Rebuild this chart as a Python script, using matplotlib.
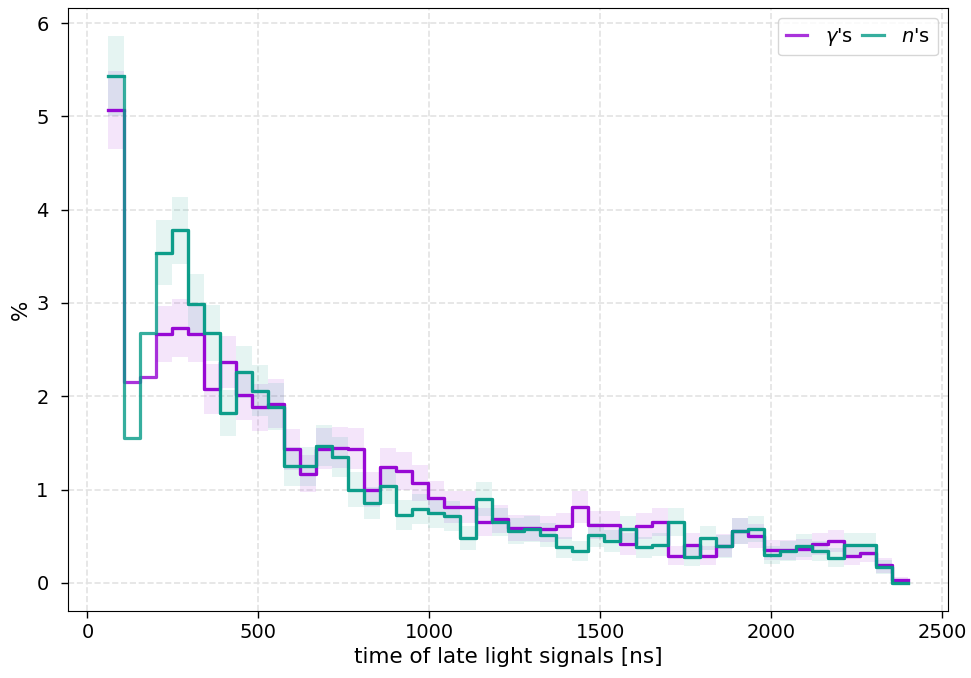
import numpy as np
import matplotlib
matplotlib.use("Agg")
import matplotlib.pyplot as plt

# 50 bins from 60 ns to 2400 ns
bin_edges = np.linspace(60, 2400, 51)

gamma_pct = [5.07, 2.15, 2.21, 2.67, 2.73, 2.67, 2.08, 2.37, 2.01, 1.88,
             1.92, 1.43, 1.17, 1.44, 1.45, 1.44, 1.00, 1.24, 1.20, 1.07,
             0.91, 0.81, 0.81, 0.65, 0.68, 0.59, 0.59, 0.58, 0.61, 0.81,
             0.62, 0.62, 0.42, 0.61, 0.65, 0.29, 0.41, 0.29, 0.40, 0.56,
             0.50, 0.35, 0.35, 0.36, 0.42, 0.45, 0.29, 0.32, 0.19, 0.03]
gamma_err = [0.42, np.nan, np.nan, 0.30, 0.31, 0.30, 0.27, 0.28, 0.26, 0.25,
             0.26, 0.22, 0.20, 0.22, 0.22, 0.22, 0.19, 0.21, 0.20, 0.19,
             0.18, 0.17, 0.17, 0.15, 0.15, 0.14, 0.14, 0.14, 0.14, 0.17,
             0.15, 0.15, 0.12, 0.14, 0.15, 0.10, 0.12, 0.10, 0.12, 0.14,
             0.13, 0.11, 0.11, 0.11, 0.12, 0.12, 0.10, 0.10, 0.08, 0.03]

neutron_pct = [5.43, 1.55, 2.68, 3.54, 3.78, 2.99, 2.68, 1.82, 2.26, 2.06,
               1.89, 1.25, 1.25, 1.47, 1.35, 1.00, 0.86, 1.04, 0.73, 0.79,
               0.75, 0.72, 0.48, 0.90, 0.65, 0.56, 0.58, 0.51, 0.38, 0.34,
               0.51, 0.45, 0.58, 0.38, 0.41, 0.65, 0.28, 0.48, 0.39, 0.56,
               0.58, 0.30, 0.34, 0.40, 0.34, 0.27, 0.41, 0.41, 0.17, 0.00]
neutron_err = [0.43, np.nan, np.nan, 0.35, 0.36, 0.32, 0.30, 0.25, 0.28, 0.27,
               0.25, 0.21, 0.21, 0.22, 0.21, 0.19, 0.17, 0.19, 0.16, 0.16,
               0.16, 0.16, 0.13, 0.18, 0.15, 0.14, 0.14, 0.13, 0.11, 0.11,
               0.13, 0.12, 0.14, 0.11, 0.12, 0.15, 0.10, 0.13, 0.12, 0.14,
               0.14, 0.10, 0.11, 0.12, 0.11, 0.10, 0.12, 0.12, 0.08, 0.00]

labels = ["$\\gamma$'s", "$n$'s"]
colors = ["#9400d3", "#049a86"]
x_ticks = [0, 500, 1000, 1500, 2000, 2500]
y_ticks = [0, 1, 2, 3, 4, 5, 6]

plt.rcParams['font.family'] = ['DejaVu Sans']
fig, ax = plt.subplots(figsize=(9.71, 6.78), dpi=100)
fig.subplots_adjust(left=0.070, right=0.976, top=0.988, bottom=0.099)

lefts = bin_edges[:-1]
widths = np.diff(bin_edges)


def draw(vals, errs, color, label):
    v = np.asarray(vals, dtype=float)
    e = np.asarray(errs, dtype=float)
    ok = np.isfinite(e) & (e > 0)
    ax.bar(lefts[ok], 2 * e[ok], bottom=v[ok] - e[ok], width=widths[ok],
           align='edge', color=color, alpha=0.1, linewidth=0, zorder=1)
    ax.step(bin_edges, np.append(v, v[-1]), where='post', color=color,
            alpha=0.8, lw=2.3, label=label, zorder=2)
    vm = np.where(np.isfinite(e), v, np.nan)
    ax.step(bin_edges, np.append(vm, vm[-1]), where='post', color=color,
            alpha=0.8, lw=2.3, zorder=2)


draw(gamma_pct, gamma_err, colors[0], labels[0])
draw(neutron_pct, neutron_err, colors[1], labels[1])

ax.set_xlim(-57, 2517)
ax.set_ylim(-0.30, 6.16)
ax.set_xticks(x_ticks)
ax.set_yticks(y_ticks)
ax.tick_params(labelsize=14, length=5, width=1)
ax.tick_params(axis='y', pad=9)
ax.set_xlabel("time of late light signals [ns]", fontsize=15.5)
ax.set_ylabel("%", fontsize=15.5)
ax.grid(True, linestyle='--', color='#e3e3e3', linewidth=1.2)
ax.set_axisbelow(True)
ax.legend(loc='upper right', ncol=2, fontsize=14, handlelength=1.1,
          columnspacing=0.5, handletextpad=0.9)

fig.savefig("out.png", dpi=100)
